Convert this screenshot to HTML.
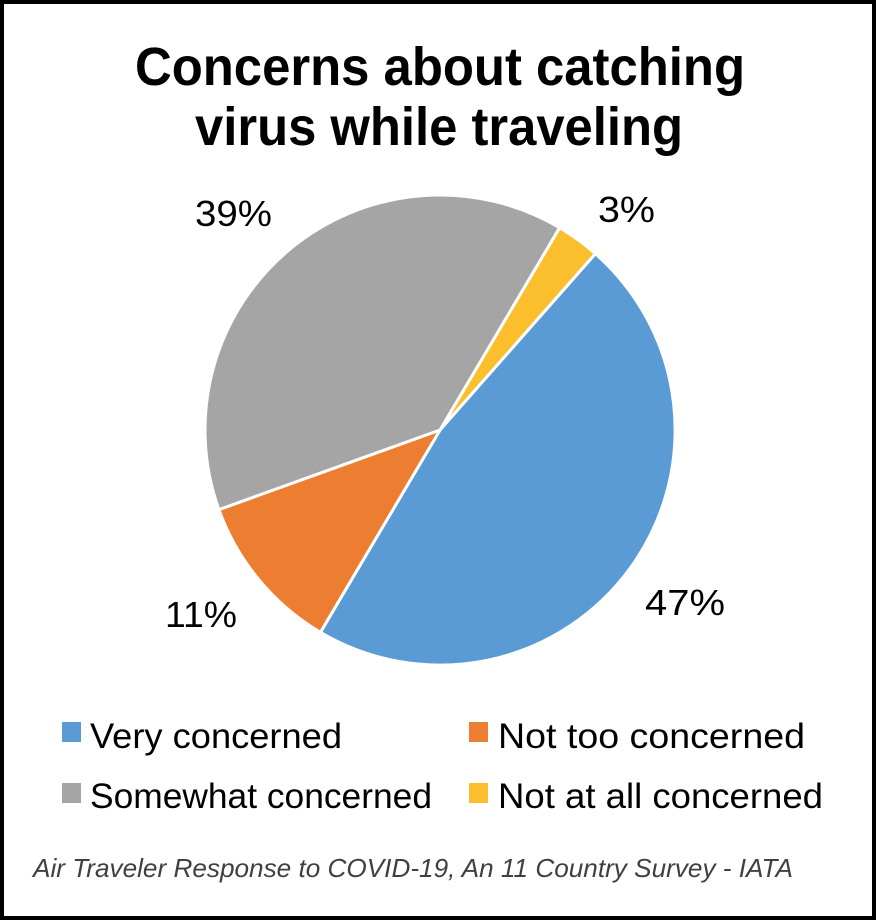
<!DOCTYPE html>
<html><head><style>
html,body{margin:0;padding:0;background:#fff}
svg{display:block}
text{font-family:"Liberation Sans",sans-serif;fill:#000}
</style></head><body>
<svg width="876" height="922" viewBox="0 0 876 922" xmlns="http://www.w3.org/2000/svg">
<rect x="2" y="2" width="872" height="916" fill="#fff" stroke="#000" stroke-width="4"/>
<text x="135" y="85" font-size="54" font-weight="bold" textLength="610" lengthAdjust="spacingAndGlyphs">Concerns about catching</text>
<text x="195" y="145" font-size="54" font-weight="bold" textLength="488" lengthAdjust="spacingAndGlyphs">virus while traveling</text>
<g stroke="#fff" stroke-width="3" stroke-linejoin="round">
<path d="M440,430 L559.6,227.7 A235,235 0 0 1 595.4,253.7 Z" fill="#FBBE2C"/>
<path d="M440,430 L595.4,253.7 A235,235 0 0 1 320.4,632.3 Z" fill="#5B9BD5"/>
<path d="M440,430 L320.4,632.3 A235,235 0 0 1 218.9,509.6 Z" fill="#ED7D31"/>
<path d="M440,430 L218.9,509.6 A235,235 0 0 1 559.6,227.7 Z" fill="#A5A5A5"/>
</g>
<text x="195" y="226" font-size="36" textLength="77" lengthAdjust="spacingAndGlyphs">39%</text>
<text x="598" y="222" font-size="36" textLength="57" lengthAdjust="spacingAndGlyphs">3%</text>
<text x="165" y="627" font-size="36" textLength="72" lengthAdjust="spacingAndGlyphs">11%</text>
<text x="645" y="615" font-size="36" textLength="80" lengthAdjust="spacingAndGlyphs">47%</text>
<rect x="62" y="722" width="19" height="20" fill="#5B9BD5"/>
<text x="90" y="748" font-size="35" textLength="252" lengthAdjust="spacingAndGlyphs">Very concerned</text>
<rect x="469" y="722" width="19" height="20" fill="#ED7D31"/>
<text x="498" y="748" font-size="35" textLength="307" lengthAdjust="spacingAndGlyphs">Not too concerned</text>
<rect x="62" y="783" width="19" height="20" fill="#A5A5A5"/>
<text x="90" y="808" font-size="35" textLength="342" lengthAdjust="spacingAndGlyphs">Somewhat concerned</text>
<rect x="469" y="783" width="19" height="20" fill="#FBBE2C"/>
<text x="498" y="808" font-size="35" textLength="325" lengthAdjust="spacingAndGlyphs">Not at all concerned</text>
<text x="33" y="877" font-size="26" font-style="italic" style="fill:#404040" textLength="760" lengthAdjust="spacingAndGlyphs">Air Traveler Response to COVID-19, An 11 Country Survey - IATA</text>
</svg>
</body></html>
